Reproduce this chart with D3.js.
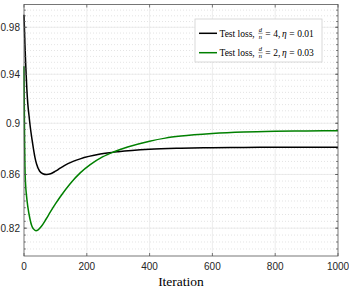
<!DOCTYPE html>
<html>
<head>
  <meta charset="UTF-8">
  <style>
    body { margin: 0; background: white; }
    svg { display: block; }
    .tick-label { font-family: "Liberation Sans", Arial, sans-serif; font-size: 10px; fill: #262626; }
    .leg { font-family: "Liberation Serif", "Times New Roman", serif; font-size: 9.5px; fill: #000; }
  </style>
</head>
<body>
<svg></svg>
<script src="https://d3js.org/d3.v7.min.js"></script>
<script>
let width = 349, height = 289;

// Test loss, d/n = 4, eta = 0.01 (black)
const blackIter = [0, 3, 6, 9, 12, 16, 20, 25, 30, 35, 40, 50, 60, 72, 85, 100, 115, 140, 179, 243, 300, 400, 500, 600, 700, 800, 900, 1000];
const blackLoss = [0.991, 0.965, 0.945, 0.928, 0.916, 0.906, 0.897, 0.888, 0.880, 0.873, 0.868, 0.8625, 0.8606, 0.8600, 0.8606, 0.8625, 0.8648, 0.8683, 0.8720, 0.8757, 0.8776, 0.8795, 0.8803, 0.8807, 0.8809, 0.8810, 0.8811, 0.8811];

// Test loss, d/n = 2, eta = 0.03 (green)
const greenIter = [0, 1, 2, 3, 5, 8, 12, 19, 25, 30, 38, 45, 55, 70, 83, 100, 115, 147, 179, 211, 250, 285, 330, 400, 450, 500, 600, 700, 800, 900, 1000];
const greenLoss = [0.9466, 0.912, 0.884, 0.866, 0.853, 0.844, 0.836, 0.8267, 0.8215, 0.8195, 0.8182, 0.8188, 0.8212, 0.8265, 0.8315, 0.8378, 0.8430, 0.8530, 0.8612, 0.8675, 0.8735, 0.8773, 0.8812, 0.8858, 0.8882, 0.8898, 0.8918, 0.8930, 0.8936, 0.8939, 0.8941];

const xTicks = [0, 200, 400, 600, 800, 1000];
const yTicks = [0.82, 0.86, 0.9, 0.94, 0.98];
const yTickLabels = ["0.82", "0.86", "0.9", "0.94", "0.98"];
const yMinor = d3.range(0.805, 0.999, 0.005);

const pLeft = 24, pRight = 338, pTop = 4.5, pBottom = 256;

let svg = d3.select("svg").attr("width", width).attr("height", height);

let x = d3.scaleLinear().domain([0, 1000]).range([pLeft, pRight]);
let y = d3.scaleLog().domain([0.8, 1.0]).range([pBottom, pTop]);

// grid
let grid = svg.append("g");
grid.selectAll(".minor")
  .data(yMinor)
  .enter().append("line")
  .attr("x1", pLeft).attr("x2", pRight)
  .attr("y1", d => y(d)).attr("y2", d => y(d))
  .attr("stroke", "#d2d2d2").attr("stroke-width", 0.6)
  .attr("stroke-dasharray", "1,2");
grid.selectAll(".ymaj")
  .data(yTicks)
  .enter().append("line")
  .attr("x1", pLeft).attr("x2", pRight)
  .attr("y1", d => y(d)).attr("y2", d => y(d))
  .attr("stroke", "#e8e8e8").attr("stroke-width", 0.8);
grid.selectAll(".xmaj")
  .data(xTicks.slice(1, -1))
  .enter().append("line")
  .attr("y1", pTop).attr("y2", pBottom)
  .attr("x1", d => x(d)).attr("x2", d => x(d))
  .attr("stroke", "#e8e8e8").attr("stroke-width", 0.8);

// curves
let line = d3.line().curve(d3.curveMonotoneX);
svg.append("path")
  .attr("d", line(blackIter.map((d, i) => [x(d), y(blackLoss[i])])))
  .attr("fill", "none").attr("stroke", "#000").attr("stroke-width", 1.5);
svg.append("path")
  .attr("d", line(greenIter.map((d, i) => [x(d), y(greenLoss[i])])))
  .attr("fill", "none").attr("stroke", "#008000").attr("stroke-width", 1.5);

// axes box and ticks
let axc = "#555";
svg.append("rect")
  .attr("x", pLeft).attr("y", pTop).attr("width", pRight - pLeft).attr("height", pBottom - pTop)
  .attr("fill", "none").attr("stroke", axc).attr("stroke-width", 0.8);

let ticks = svg.append("g").attr("stroke", axc).attr("stroke-width", 0.8);
xTicks.forEach(d => {
  ticks.append("line").attr("x1", x(d)).attr("x2", x(d)).attr("y1", pBottom).attr("y2", pBottom - 3);
  ticks.append("line").attr("x1", x(d)).attr("x2", x(d)).attr("y1", pTop).attr("y2", pTop + 3);
});
yTicks.forEach(d => {
  ticks.append("line").attr("x1", pLeft).attr("x2", pLeft + 3).attr("y1", y(d)).attr("y2", y(d));
  ticks.append("line").attr("x1", pRight).attr("x2", pRight - 3).attr("y1", y(d)).attr("y2", y(d));
});
yMinor.forEach(d => {
  ticks.append("line").attr("x1", pLeft).attr("x2", pLeft + 1.8).attr("y1", y(d)).attr("y2", y(d));
  ticks.append("line").attr("x1", pRight).attr("x2", pRight - 1.8).attr("y1", y(d)).attr("y2", y(d));
});

// tick labels
svg.selectAll(".xl")
  .data(xTicks)
  .enter().append("text")
  .attr("class", "tick-label")
  .attr("x", d => x(d)).attr("y", 270)
  .attr("text-anchor", "middle")
  .text(d => d);
svg.selectAll(".yl")
  .data(yTicks)
  .enter().append("text")
  .attr("class", "tick-label")
  .attr("x", 20).attr("y", d => y(d) + 3.5)
  .attr("text-anchor", "end")
  .text((d, i) => yTickLabels[i]);

// x label
svg.append("text")
  .attr("x", (pLeft + pRight) / 2).attr("y", 286)
  .attr("text-anchor", "middle")
  .style("font-family", "'Liberation Serif', 'Times New Roman', serif")
  .style("font-size", "13.5px")
  .text("Iteration");

// legend
let legend = svg.append("g");
legend.append("rect")
  .attr("x", 195).attr("y", 19).attr("width", 127).attr("height", 43)
  .attr("fill", "white").attr("stroke", "#d0d0d0").attr("stroke-width", 0.8);

const legendRows = [
  { color: "#000", ratio: "4", eta: "0.01", cy: 33.3 },
  { color: "#008000", ratio: "2", eta: "0.03", cy: 52.7 }
];

// place text pieces one after another, with math-like spacing
function piece(str, px, py, italic, size) {
  let t = legend.append("text").attr("class", "leg")
    .attr("x", px).attr("y", py).text(str);
  if (italic) t.style("font-style", "italic");
  if (size) t.style("font-size", size);
  return px + t.node().getComputedTextLength();
}

legendRows.forEach(r => {
  legend.append("line")
    .attr("x1", 199).attr("x2", 217).attr("y1", r.cy).attr("y2", r.cy)
    .attr("stroke", r.color).attr("stroke-width", 1.5);
  let by = r.cy + 3.2;
  let px = piece("Test loss,", 219.5, by);
  let fx = px + 3.5;
  legend.append("text").attr("class", "leg")
    .attr("x", fx + 2.2).attr("y", r.cy - 1.3)
    .attr("text-anchor", "middle")
    .style("font-size", "6.5px").style("font-style", "italic").text("d");
  legend.append("line")
    .attr("x1", fx).attr("x2", fx + 4.4).attr("y1", r.cy).attr("y2", r.cy)
    .attr("stroke", "#000").attr("stroke-width", 0.4);
  legend.append("text").attr("class", "leg")
    .attr("x", fx + 2.2).attr("y", r.cy + 5.2)
    .attr("text-anchor", "middle")
    .style("font-size", "6.5px").style("font-style", "italic").text("n");
  px = fx + 4.4 + 2.6;
  px = piece("=", px, by) + 2.6;
  px = piece(r.ratio + ",", px, by) + 1.6;
  px = piece("η", px, by, true) + 2.6;
  px = piece("=", px, by) + 2.6;
  piece(r.eta, px, by);
});
</script>
</body>
</html>
